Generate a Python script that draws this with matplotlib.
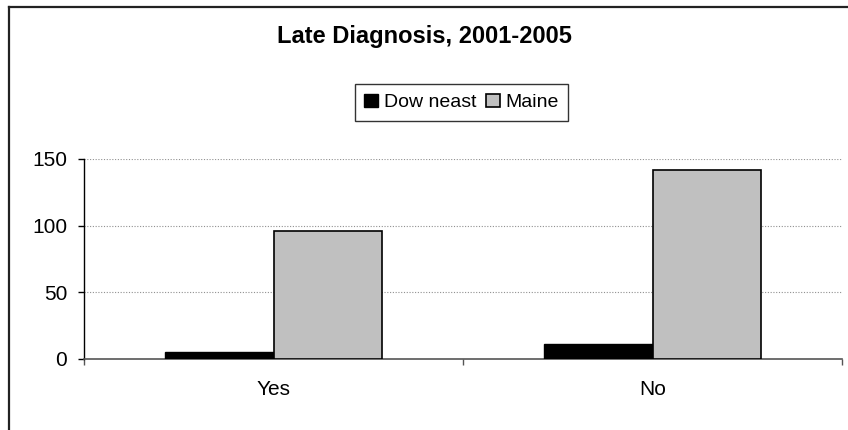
import matplotlib
matplotlib.use("Agg")
import matplotlib.pyplot as plt
from matplotlib.lines import Line2D
import numpy as np

categories = ["Yes", "No"]
downeast = [5, 11]
maine = [96, 142]
series_names = ["Dow neast", "Maine"]
yticks = [0, 50, 100, 150]

plt.rcParams['font.family'] = ['Liberation Sans', 'DejaVu Sans']

fig = plt.figure(figsize=(8.48, 4.30), dpi=100)
ax = fig.add_axes([84/848, 1-359/430, (842-84)/848, 200/430])

x = np.arange(len(categories))
w = 1/3.5
ax.bar(x - w/2, downeast, w, color='black', edgecolor='black', linewidth=1, label=series_names[0], zorder=3)
ax.bar(x + w/2, maine, w, color='#C0C0C0', edgecolor='black', linewidth=1.2, label=series_names[1], zorder=3)

ax.set_xlim(-0.5, len(categories)-0.5)
ax.set_ylim(0, 150)
ax.set_yticks(yticks)
ax.set_xticks(x)
ax.set_xticklabels(categories)
ax.set_xticks(np.arange(-0.5, len(categories), 1), minor=True)
ax.tick_params(axis='x', which='major', length=0, pad=15, labelsize=15)
ax.tick_params(axis='x', which='minor', length=4, width=1, color='#555555')
ax.tick_params(axis='y', length=4, width=1, pad=8, labelsize=15)

for v in yticks[1:]:
    ax.axhline(v, color='#909090', linestyle=(0, (1, 1.5)), linewidth=0.8, zorder=1)

for s in ['top', 'right']:
    ax.spines[s].set_visible(False)
ax.spines['left'].set_color('black')
ax.spines['bottom'].set_color('#555555')
ax.spines['left'].set_linewidth(1)
ax.spines['bottom'].set_linewidth(1.2)

fig.text(0.5, 1-43.3/430, "Late Diagnosis, 2001-2005", ha='center', va='baseline',
         fontsize=17, fontweight='bold')

leg = fig.legend(loc='center', bbox_to_anchor=(461.5/848, 1-102.5/430), ncol=2,
                 fontsize=14, frameon=True, fancybox=False, shadow=False,
                 handlelength=0.7, handleheight=0.7, handletextpad=0.3,
                 columnspacing=0.5, borderpad=0.5, borderaxespad=0)
leg.get_frame().set_edgecolor('black')
leg.get_frame().set_linewidth(1)

xl = 8.5/848
yt = 1 - 6.5/430
fig.lines.append(Line2D([xl, 1.01], [yt, yt], transform=fig.transFigure, color='#222222', linewidth=1.6))
fig.lines.append(Line2D([xl, xl], [-0.01, yt], transform=fig.transFigure, color='#222222', linewidth=1.6))

fig.savefig("out.png", dpi=100)
